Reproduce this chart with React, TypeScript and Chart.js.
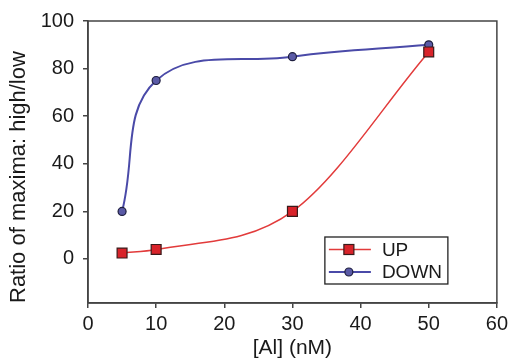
import React, { useEffect, useRef } from "react";
import { Chart, registerables } from "chart.js";

Chart.register(...registerables);

const xValues = [5, 10, 30, 50];
const upValues = [2.5, 4, 20, 87];
const downValues = [20, 75, 85, 90];
const xTicks = [0, 10, 20, 30, 40, 50, 60];
const yTicks = [0, 20, 40, 60, 80, 100];
const seriesLabels = ["UP", "DOWN"];
const xTitle = "[Al] (nM)";
const yTitle = "Ratio of maxima: high/low";

const FONT = "'Liberation Sans', Arial, Helvetica, sans-serif";
const TICK_FS = 20;
const LEG_FS = 19;

const framePlugin = {
  id: "frameAndLegend",
  afterDatasetsDraw(chart: any) {
    const { ctx, chartArea } = chart;
    ctx.save();
    ctx.strokeStyle = "#444";
    ctx.lineWidth = 1.5;
    ctx.strokeRect(chartArea.left, chartArea.top, chartArea.right - chartArea.left, chartArea.bottom - chartArea.top);

    // legend box
    const bx = chartArea.right - 172;
    const by = chartArea.bottom - 66;
    const bw = 123;
    const bh = 47;
    ctx.fillStyle = "#fff";
    ctx.fillRect(bx, by, bw, bh);
    ctx.strokeStyle = "#222";
    ctx.lineWidth = 1.3;
    ctx.strokeRect(bx, by, bw, bh);
    const rows = [by + 12.5, by + 35];
    chart.data.datasets.forEach((ds: any, i: number) => {
      const y = rows[i];
      ctx.strokeStyle = ds.borderColor;
      ctx.lineWidth = ds.borderWidth;
      ctx.beginPath();
      ctx.moveTo(bx + 4, y);
      ctx.lineTo(bx + 46, y);
      ctx.stroke();
      ctx.fillStyle = ds.pointBackgroundColor;
      ctx.strokeStyle = ds.pointBorderColor;
      ctx.lineWidth = 1.2;
      const cx = bx + 24;
      if (ds.pointStyle === "rect") {
        ctx.fillRect(cx - 5, y - 5, 10, 10);
        ctx.strokeRect(cx - 5, y - 5, 10, 10);
      } else {
        ctx.beginPath();
        ctx.arc(cx, y, 4, 0, Math.PI * 2);
        ctx.fill();
        ctx.stroke();
      }
      ctx.fillStyle = "#1a1a1a";
      ctx.font = `${LEG_FS}px ${FONT}`;
      ctx.textBaseline = "middle";
      ctx.textAlign = "left";
      ctx.fillText(ds.label, bx + 57, y + 1);
    });
    ctx.restore();
  },
};

export default function App() {
  const ref = useRef<HTMLCanvasElement>(null);
  useEffect(() => {
    if (!ref.current) return;
    const chart = new Chart(ref.current, {
      type: "line",
      data: {
        datasets: [
          {
            label: seriesLabels[0],
            data: xValues.map((x, i) => ({ x, y: upValues[i] })),
            borderColor: "#e23b3b",
            borderWidth: 1.5,
            pointStyle: "rect",
            pointRadius: 7,
            pointBackgroundColor: "#d8232a",
            pointBorderColor: "#3a1a1a",
            pointBorderWidth: 1.2,
            cubicInterpolationMode: "monotone",
            fill: false,
          },
          {
            label: seriesLabels[1],
            data: xValues.map((x, i) => ({ x, y: downValues[i] })),
            borderColor: "#4a4aa8",
            borderWidth: 2,
            pointStyle: "circle",
            pointRadius: 4,
            pointBackgroundColor: "#5a5aa6",
            pointBorderColor: "#1e1e3e",
            pointBorderWidth: 1.2,
            tension: 0.4,
            fill: false,
          },
        ],
      },
      options: {
        animation: false,
        responsive: false,
        devicePixelRatio: 1,
        layout: { padding: { top: 20, right: 11, left: 0, bottom: 0 } },
        plugins: { legend: { display: false }, tooltip: { enabled: false } },
        scales: {
          x: {
            type: "linear",
            min: 0,
            max: 60,
            afterBuildTicks: (s: any) => {
              s.ticks = xTicks.map((v) => ({ value: v }));
            },
            afterFit: (s: any) => {
              s.height = 56;
            },
            grid: { drawOnChartArea: false, drawTicks: true, tickLength: 5, color: "#444", lineWidth: 1.5 },
            border: { display: true, color: "#444", width: 1.5 },
            ticks: { color: "#1a1a1a", font: { family: FONT, size: TICK_FS }, padding: 4, maxRotation: 0 },
            title: { display: true, text: xTitle, color: "#1a1a1a", font: { family: FONT, size: 21, lineHeight: 1 }, padding: { top: 0, bottom: 0 } },
          },
          y: {
            type: "linear",
            min: -18.5,
            max: 100,
            afterBuildTicks: (s: any) => {
              s.ticks = yTicks.map((v) => ({ value: v }));
            },
            afterFit: (s: any) => {
              s.width = 88;
            },
            grid: { drawOnChartArea: false, drawTicks: true, tickLength: 5, color: "#444", lineWidth: 1.5 },
            border: { display: true, color: "#444", width: 1.5 },
            ticks: { color: "#1a1a1a", font: { family: FONT, size: TICK_FS }, padding: 9 },
            title: { display: true, text: yTitle, align: "start", color: "#1a1a1a", font: { family: FONT, size: 22, lineHeight: 1 }, padding: { top: 8, bottom: 0 } },
          },
        },
      },
      plugins: [framePlugin],
    });
    return () => chart.destroy();
  }, []);
  return (
    <div style={{ position: "fixed", left: 0, top: 0, width: 512, height: 359, background: "#fff" }}>
      <canvas ref={ref} width={512} height={359} style={{ width: 512, height: 359, display: "block" }} />
    </div>
  );
}
